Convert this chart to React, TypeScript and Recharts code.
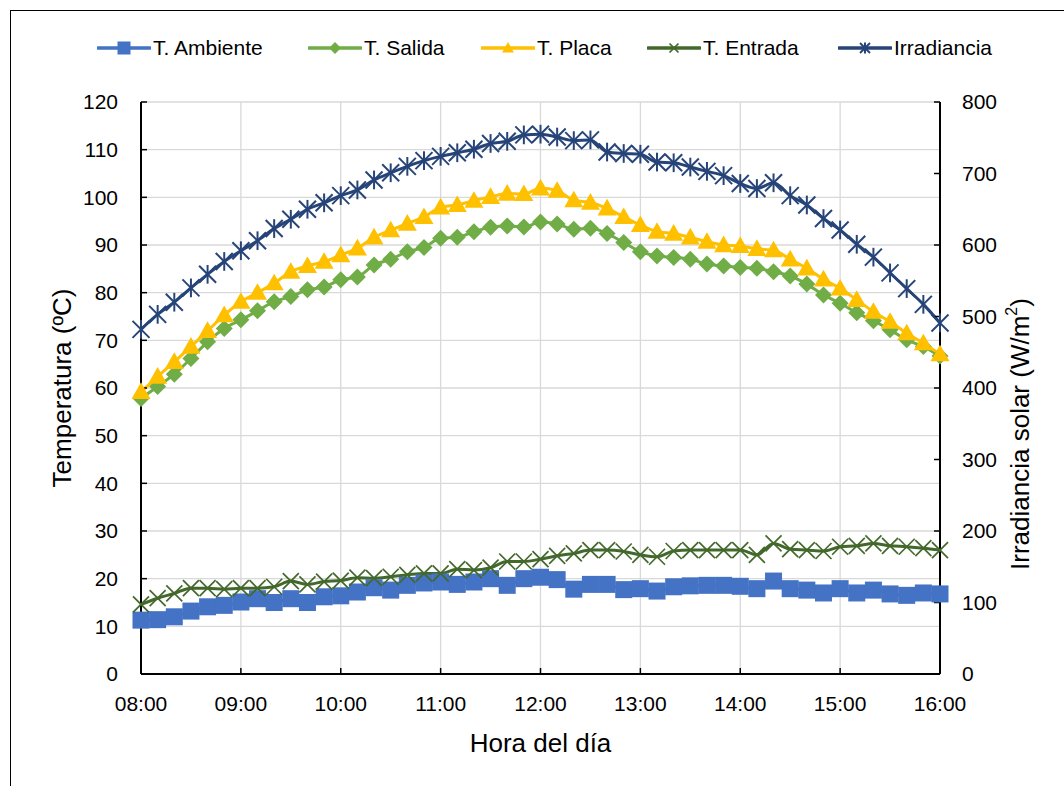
import React from 'react';
import { LineChart, Line, XAxis, YAxis, CartesianGrid, Label } from 'recharts';

const times = [
  '08:00', '08:10', '08:20', '08:30', '08:40', '08:50',
  '09:00', '09:10', '09:20', '09:30', '09:40', '09:50',
  '10:00', '10:10', '10:20', '10:30', '10:40', '10:50',
  '11:00', '11:10', '11:20', '11:30', '11:40', '11:50',
  '12:00', '12:10', '12:20', '12:30', '12:40', '12:50',
  '13:00', '13:10', '13:20', '13:30', '13:40', '13:50',
  '14:00', '14:10', '14:20', '14:30', '14:40', '14:50',
  '15:00', '15:10', '15:20', '15:30', '15:40', '15:50',
  '16:00',
];

const hourTicks = [8, 9, 10, 11, 12, 13, 14, 15, 16];
const tempTicks = [0, 10, 20, 30, 40, 50, 60, 70, 80, 90, 100, 110, 120];
const irrTicks = [0, 100, 200, 300, 400, 500, 600, 700, 800];

const tAmbiente = [
  11.3, 11.4, 12.0, 13.2, 14.1, 14.4, 15.1, 15.8, 15.0, 15.8, 15.0, 16.2, 16.4,
  17.2, 18.1, 17.6, 18.6, 19.1, 19.3, 18.8, 19.3, 20.0, 18.6, 20.0, 20.3,
  19.8, 17.8, 18.8, 18.8, 17.7, 17.9, 17.4, 18.3, 18.5, 18.6, 18.6, 18.4,
  17.9, 19.5, 17.9, 17.6, 17.0, 17.9, 17.0, 17.6, 16.8, 16.5, 17.0, 16.8,
];

const tSalida = [
  57.8, 60.3, 62.9, 66.2, 69.7, 72.5, 74.3, 76.2, 78.1, 79.2, 80.6, 81.2, 82.7,
  83.3, 85.8, 87.0, 88.6, 89.5, 91.4, 91.6, 92.8, 93.7, 94.0, 93.8, 94.8,
  94.4, 93.3, 93.5, 92.4, 90.5, 88.6, 87.7, 87.4, 87.0, 86.0, 85.6, 85.3,
  85.1, 84.4, 83.5, 81.8, 79.5, 77.8, 75.8, 74.1, 72.2, 70.1, 68.7, 66.7,
];

const tPlaca = [
  59.2, 62.4, 65.5, 68.7, 72.0, 75.3, 78.1, 80.0, 82.0, 84.4, 85.6, 86.5, 87.9,
  89.3, 91.6, 93.1, 94.5, 95.9, 97.9, 98.4, 99.3, 100.1, 100.8, 100.7, 101.9,
  101.4, 99.4, 98.9, 97.7, 95.9, 94.2, 92.8, 92.4, 91.6, 90.7, 90.0, 89.8,
  89.2, 88.9, 87.0, 85.1, 82.8, 80.9, 78.5, 76.0, 73.9, 71.5, 69.4, 67.1,
];

const tEntrada = [
  14.6, 15.9, 16.9, 18.0, 18.0, 17.8, 18.0, 18.0, 18.3, 19.5, 18.8, 19.4, 19.6,
  20.2, 20.1, 20.4, 20.8, 21.1, 21.1, 22.0, 21.8, 22.3, 23.6, 23.6, 24.1,
  24.8, 25.3, 26.0, 26.0, 25.7, 25.0, 24.6, 25.8, 26.0, 26.0, 26.0, 26.0,
  25.0, 27.4, 26.2, 26.0, 25.8, 26.7, 26.9, 27.4, 26.9, 26.7, 26.4, 26.0,
];

const irradiancia = [
  482, 503, 520, 540, 559, 577, 592, 606, 623, 636, 650, 659, 669,
  677, 691, 701, 710, 718, 724, 729, 734, 742, 745, 754, 755,
  751, 746, 747, 730, 728, 727, 716, 715, 709, 703, 697, 686,
  679, 687, 669, 656, 637, 621, 601, 583, 561, 539, 517, 491,
];

const toHours = (t: string) => {
  const [h, m] = t.split(':').map(Number);
  return h + m / 60;
};

const data = times.map((t, i) => ({
  x: toHours(t),
  ambiente: tAmbiente[i],
  salida: tSalida[i],
  placa: tPlaca[i],
  entrada: tEntrada[i],
  irradiancia: irradiancia[i],
}));

type Shape = 'square' | 'diamond' | 'triangle' | 'cross' | 'star';

const Marker = ({ cx, cy, shape, color, size }: { cx: number; cy: number; shape: Shape; color: string; size: number }) => {
  const h = size / 2;
  if (shape === 'square') {
    return <rect x={cx - h} y={cy - h} width={size} height={size} fill={color} />;
  }
  if (shape === 'diamond') {
    return <polygon points={`${cx},${cy - h} ${cx + h},${cy} ${cx},${cy + h} ${cx - h},${cy}`} fill={color} />;
  }
  if (shape === 'triangle') {
    return (
      <polygon
        points={`${cx},${cy - h * 1.0} ${cx + h},${cy + h * 0.75} ${cx - h},${cy + h * 0.75}`}
        fill={color}
      />
    );
  }
  if (shape === 'cross') {
    return (
      <g stroke={color} strokeWidth={1.7}>
        <line x1={cx - h} y1={cy - h} x2={cx + h} y2={cy + h} />
        <line x1={cx - h} y1={cy + h} x2={cx + h} y2={cy - h} />
      </g>
    );
  }
  return (
    <g stroke={color} strokeWidth={2}>
      <line x1={cx - h} y1={cy - h} x2={cx + h} y2={cy + h} />
      <line x1={cx - h} y1={cy + h} x2={cx + h} y2={cy - h} />
      <line x1={cx} y1={cy - h * 1.1} x2={cx} y2={cy + h * 1.1} />
    </g>
  );
};

const series = [
  { key: 'ambiente', name: 'T. Ambiente', color: '#4472C4', shape: 'square' as Shape, size: 17, legendSize: 13, axis: 'left', legendX: 97 },
  { key: 'salida', name: 'T. Salida', color: '#70AD47', shape: 'diamond' as Shape, size: 17, legendSize: 12, axis: 'left', legendX: 308 },
  { key: 'placa', name: 'T. Placa', color: '#FFC000', shape: 'triangle' as Shape, size: 19, legendSize: 12, axis: 'left', legendX: 481 },
  { key: 'entrada', name: 'T. Entrada', color: '#43682B', shape: 'cross' as Shape, size: 16, legendSize: 9, axis: 'left', legendX: 647 },
  { key: 'irradiancia', name: 'Irradiancia', color: '#264478', shape: 'star' as Shape, size: 17, legendSize: 10, axis: 'right', legendX: 838 },
];

const fmtHour = (h: number) => `${String(h).padStart(2, '0')}:00`;

const LeftTitle = (props: any) => {
  const vb = props.viewBox || { x: 41, y: 102, width: 100, height: 572 };
  const cx = vb.x + 21;
  const cy = vb.y + vb.height / 2;
  return (
    <text x={cx} y={cy} transform={`rotate(-90 ${cx} ${cy})`} textAnchor="middle" dominantBaseline="central" fontSize={26} fill="#000">
      Temperatura (ºC)
    </text>
  );
};

const RightTitle = (props: any) => {
  const vb = props.viewBox || { x: 940, y: 102, width: 100, height: 572 };
  const cx = vb.x + 80;
  const cy = vb.y + vb.height / 2 + 46;
  return (
    <text x={cx} y={cy} transform={`rotate(-90 ${cx} ${cy})`} textAnchor="middle" dominantBaseline="central" fontSize={26} fill="#000">
      Irradiancia solar (W/m<tspan dy={-9} fontSize={16}>2</tspan><tspan dy={9}>)</tspan>
    </text>
  );
};

const BottomTitle = (props: any) => {
  const vb = props.viewBox || { x: 141, y: 674, width: 799, height: 60 };
  return (
    <text x={vb.x + vb.width / 2} y={vb.y + 78} textAnchor="middle" fontSize={26} fill="#000">
      Hora del día
    </text>
  );
};

const tickStyle = { fontSize: 21, fill: '#000' };
const axisStroke = { stroke: '#000', strokeWidth: 2 };
const tickLineStyle = { stroke: '#000', strokeWidth: 1.5 };

export default function App() {
  return (
    <div
      style={{
        position: 'absolute',
        left: 0,
        top: 0,
        width: 1064,
        height: 786,
        background: '#fff',
        overflow: 'hidden',
        fontFamily: '"Liberation Sans", Arial, sans-serif',
      }}
    >
      <div
        style={{
          position: 'absolute',
          left: 10,
          top: 10,
          width: 1200,
          height: 900,
          borderLeft: '1.5px solid #000',
          borderTop: '1.5px solid #000',
        }}
      />
      {series.map((s) => (
        <div
          key={s.key}
          style={{ position: 'absolute', left: s.legendX, top: 36, height: 24, display: 'flex', alignItems: 'center' }}
        >
          <svg width={54} height={24}>
            <line x1={1} y1={12} x2={53} y2={12} stroke={s.color} strokeWidth={3.5} strokeLinecap="round" />
            <Marker cx={27} cy={12} shape={s.shape} color={s.color} size={s.legendSize} />
          </svg>
          <span style={{ fontSize: 21, color: '#000', marginLeft: 2 }}>{s.name}</span>
        </div>
      ))}
      <div style={{ position: 'absolute', left: 0, top: 0 }}>
        <LineChart width={1064} height={786} data={data} margin={{ top: 102, right: 24, bottom: 52, left: 41 }}>
          <CartesianGrid yAxisId="left" stroke="#d9d9d9" strokeWidth={1.3} />
          <XAxis
            dataKey="x"
            type="number"
            domain={[8, 16]}
            ticks={hourTicks}
            tickFormatter={fmtHour}
            height={60}
            axisLine={axisStroke}
            tickLine={tickLineStyle}
            tickSize={-6}
            tickMargin={28}
            tick={tickStyle}
          >
            <Label content={BottomTitle} />
          </XAxis>
          <YAxis
            yAxisId="left"
            domain={[0, 120]}
            ticks={tempTicks}
            width={100}
            axisLine={axisStroke}
            tickLine={tickLineStyle}
            tickSize={-6}
            tickMargin={29}
            tick={tickStyle}
          >
            <Label content={LeftTitle} />
          </YAxis>
          <YAxis
            yAxisId="right"
            orientation="right"
            domain={[0, 800]}
            ticks={irrTicks}
            width={100}
            axisLine={axisStroke}
            tickLine={tickLineStyle}
            tickSize={-6}
            tickMargin={28}
            tick={{ ...tickStyle, textAnchor: 'start' }}
          >
            <Label content={RightTitle} />
          </YAxis>
          {series.map((s) => (
            <Line
              key={s.key}
              yAxisId={s.axis}
              type="monotone"
              dataKey={s.key}
              name={s.name}
              stroke={s.color}
              strokeWidth={3}
              isAnimationActive={false}
              activeDot={false}
              dot={(p: any) => (
                <g key={`${s.key}-${p.index}`}>
                  <Marker cx={p.cx} cy={p.cy} shape={s.shape} color={s.color} size={s.size} />
                </g>
              )}
            />
          ))}
        </LineChart>
      </div>
    </div>
  );
}
